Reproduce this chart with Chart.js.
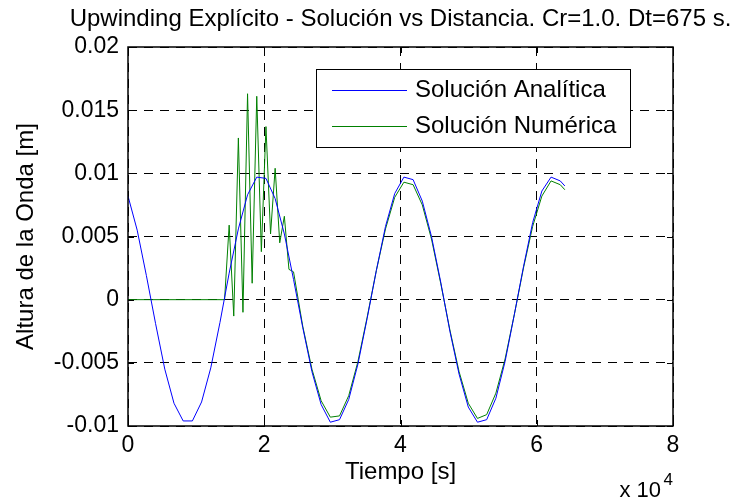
<!DOCTYPE html>
<html>
<head>
<meta charset="utf-8">
<title>Upwinding Explícito</title>
<script src="https://cdn.jsdelivr.net/npm/chart.js@4"></script>
<style>
  body { margin: 0; background: #fff; }
</style>
</head>
<body>
<canvas id="grafico" width="738" height="504"></canvas>
<script>
// solucion analitica, paso de 1350 s
var tiempoAnalitica = [0, 1350, 2700, 4050, 5400, 6750, 8100, 9450, 10800, 12150,
  13500, 14850, 16200, 17550, 18900, 20250, 21600, 22950, 24300, 25650,
  27000, 28350, 29700, 31050, 32400, 33750, 35100, 36450, 37800, 39150,
  40500, 41850, 43200, 44550, 45900, 47250, 48600, 49950, 51300, 52650,
  54000, 55350, 56700, 58050, 59400, 60750, 62100, 63450, 64125];
var alturaAnalitica = [0.0082, 0.0055, 0.0019, -0.0019, -0.0055, -0.0082, -0.0096, -0.0096, -0.0081, -0.0054,
  -0.0018, 0.0021, 0.0056, 0.0083, 0.0097, 0.0096, 0.0080, 0.0052, 0.0016, -0.0022,
  -0.0057, -0.0083, -0.0097, -0.0095, -0.0079, -0.0051, -0.0015, 0.0023, 0.0058, 0.0084,
  0.0097, 0.0095, 0.0078, 0.0050, 0.0014, -0.0025, -0.0059, -0.0085, -0.0097, -0.0095,
  -0.0078, -0.0049, -0.0012, 0.0026, 0.0061, 0.0086, 0.0097, 0.0094, 0.0090];

// solucion numerica (Dt = 675 s en la zona de oscilaciones)
var tiempoNumerica = [0, 14175, 14850, 15525, 16200, 16875, 17550, 18225, 18900, 19575,
  20250, 20925, 21600, 22275, 22950, 23625, 24300, 25650, 27000, 28350,
  29700, 31050, 32400, 33750, 35100, 36450, 37800, 39150, 40500, 41850,
  43200, 44550, 45900, 47250, 48600, 49950, 51300, 52650, 54000, 55350,
  56700, 58050, 59400, 60750, 62100, 63450, 64125];
var alturaNumerica = [0, 0, 0.0059, -0.0013, 0.0128, -0.0010, 0.0163, 0.0013, 0.0161, 0.0038,
  0.0137, 0.0052, 0.0104, 0.0045, 0.0066, 0.0024, 0.0022, -0.0021, -0.0055, -0.0080,
  -0.0093, -0.0092, -0.0076, -0.0049, -0.0014, 0.0023, 0.0056, 0.0081, 0.0093, 0.0091,
  0.0075, 0.0048, 0.0013, -0.0024, -0.0057, -0.0082, -0.0094, -0.0091, -0.0074, -0.0047,
  -0.0012, 0.0025, 0.0058, 0.0082, 0.0094, 0.0091, 0.0087];

var ticksX = [0, 20000, 40000, 60000, 80000];
var etiquetasX = ['0', '2', '4', '6', '8'];
var ticksY = [-0.01, -0.005, 0, 0.005, 0.01, 0.015, 0.02];
var etiquetasY = ['-0.01', '-0.005', '0', '0.005', '0.01', '0.015', '0.02'];

var titulo = 'Upwinding Explícito - Solución vs Distancia. Cr=1.0. Dt=675 s.';
var fuente = '"Liberation Sans", Arial, Helvetica, sans-serif';

function puntos(xs, ys) {
  var lista = [];
  for (var i = 0; i < xs.length; i++) {
    lista.push({ x: xs[i], y: ys[i] });
  }
  return lista;
}

// caja de ejes, marcas interiores, titulo, exponente y leyenda
var marco = {
  id: 'marco',
  afterDraw: function (chart) {
    var ctx = chart.ctx;
    var area = chart.chartArea;
    var sx = chart.scales.x;
    var sy = chart.scales.y;
    ctx.save();

    ctx.strokeStyle = '#000';
    ctx.lineWidth = 1;
    ctx.setLineDash([]);
    ctx.beginPath();
    ticksX.forEach(function (v) {
      var px = Math.round(sx.getPixelForValue(v)) + 0.5;
      ctx.moveTo(px, area.bottom); ctx.lineTo(px, area.bottom - 6);
      ctx.moveTo(px, area.top); ctx.lineTo(px, area.top + 6);
    });
    ticksY.forEach(function (v) {
      var py = Math.round(sy.getPixelForValue(v)) + 0.5;
      ctx.moveTo(area.left, py); ctx.lineTo(area.left + 6, py);
      ctx.moveTo(area.right, py); ctx.lineTo(area.right - 6, py);
    });
    ctx.stroke();

    ctx.lineWidth = 1.5;
    ctx.strokeRect(area.left, area.top, area.right - area.left, area.bottom - area.top);

    ctx.fillStyle = '#000';
    ctx.textBaseline = 'middle';
    ctx.textAlign = 'center';
    ctx.font = '24px ' + fuente;
    ctx.fillText(titulo, (area.left + area.right) / 2, 19);

    // x 10^4 debajo del extremo derecho
    ctx.textAlign = 'right';
    ctx.font = '22px ' + fuente;
    ctx.fillText('x 10', area.right - 12, 491);
    ctx.font = '17px ' + fuente;
    ctx.fillText('4', area.right, 480);

    // leyenda
    var lx = 316.5, ly = 69.5, lw = 314, lh = 78;
    ctx.fillStyle = '#fff';
    ctx.fillRect(lx, ly, lw, lh);
    ctx.lineWidth = 1;
    ctx.strokeStyle = '#000';
    ctx.strokeRect(lx, ly, lw, lh);
    var filas = [90, 126];
    chart.data.datasets.forEach(function (ds, i) {
      ctx.strokeStyle = ds.borderColor;
      ctx.beginPath();
      ctx.moveTo(332, filas[i] + 0.5);
      ctx.lineTo(407, filas[i] + 0.5);
      ctx.stroke();
      ctx.fillStyle = '#000';
      ctx.textAlign = 'left';
      ctx.font = '24px ' + fuente;
      ctx.fillText(ds.label, 415, filas[i]);
    });

    ctx.restore();
  }
};

new Chart(document.getElementById('grafico'), {
  type: 'line',
  data: {
    datasets: [{
      label: 'Solución Analítica',
      data: puntos(tiempoAnalitica, alturaAnalitica),
      borderColor: '#0000ff',
      borderWidth: 1,
      pointRadius: 0,
      tension: 0,
      fill: false
    }, {
      label: 'Solución Numérica',
      data: puntos(tiempoNumerica, alturaNumerica),
      borderColor: '#008000',
      borderWidth: 1,
      pointRadius: 0,
      tension: 0,
      fill: false
    }]
  },
  options: {
    responsive: false,
    animation: false,
    devicePixelRatio: 1,
    layout: { padding: { top: 47, right: 65, left: 0, bottom: 0 } },
    plugins: {
      legend: { display: false },
      title: { display: false },
      tooltip: { enabled: false }
    },
    scales: {
      x: {
        type: 'linear',
        min: 0,
        max: 80000,
        afterBuildTicks: function (s) {
          s.ticks = ticksX.map(function (v) { return { value: v }; });
        },
        afterFit: function (s) { s.height = 78; },
        ticks: {
          autoSkip: false,
          maxRotation: 0,
          padding: 6,
          color: '#000',
          font: { family: fuente, size: 23 },
          callback: function (v, i) { return etiquetasX[i]; }
        },
        grid: { color: '#000', lineWidth: 1, drawTicks: false },
        border: { display: false, dash: [9, 7] },
        title: {
          display: true,
          text: 'Tiempo [s]',
          color: '#000',
          font: { family: fuente, size: 24 },
          padding: { top: 0, bottom: 17 }
        }
      },
      y: {
        min: -0.01,
        max: 0.02,
        afterBuildTicks: function (s) {
          s.ticks = ticksY.map(function (v) { return { value: v }; });
        },
        afterFit: function (s) { s.width = 128; },
        ticks: {
          padding: 9,
          color: '#000',
          font: { family: fuente, size: 23 },
          callback: function (v, i) { return etiquetasY[i]; }
        },
        grid: { color: '#000', lineWidth: 1, drawTicks: false },
        border: { display: false, dash: [9, 7] },
        title: {
          display: true,
          text: 'Altura de la Onda [m]',
          color: '#000',
          font: { family: fuente, size: 24 },
          padding: { top: 12, bottom: 0 }
        }
      }
    }
  },
  plugins: [marco]
});
</script>
</body>
</html>
